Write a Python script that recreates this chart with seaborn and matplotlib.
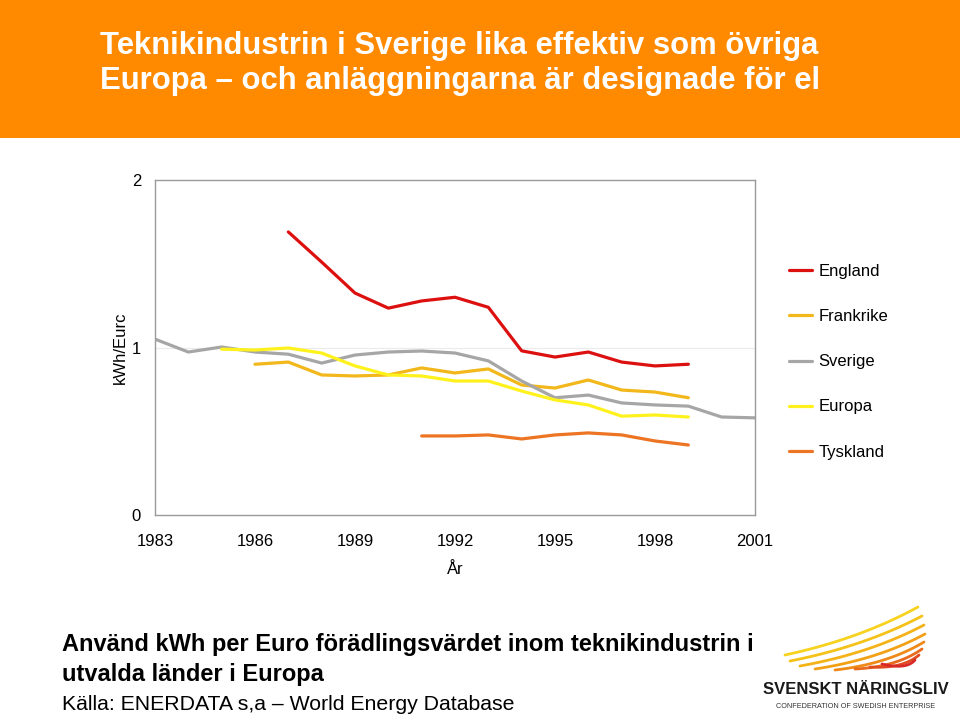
import numpy as np
import pandas as pd
import matplotlib
matplotlib.use("Agg")
import matplotlib.pyplot as plt
import seaborn as sns
from matplotlib.lines import Line2D
from matplotlib.patches import Rectangle

years = list(range(1983, 2002))
england = [None, None, None, None, 1.69, 1.51, 1.325, 1.235, 1.278, 1.30, 1.24, 0.98, 0.943, 0.973, 0.913, 0.89, 0.90, None, None]
frankrike = [None, None, None, 0.90, 0.913, 0.836, 0.83, 0.836, 0.878, 0.848, 0.872, 0.776, 0.758, 0.806, 0.746, 0.734, 0.70, None, None]
sverige = [1.05, 0.973, 1.003, 0.973, 0.96, 0.907, 0.955, 0.973, 0.979, 0.967, 0.92, 0.80, 0.70, 0.716, 0.669, 0.657, 0.65, 0.585, 0.58]
europa = [None, None, 0.99, 0.985, 0.997, 0.967, 0.89, 0.836, 0.83, 0.80, 0.80, 0.74, 0.687, 0.657, 0.59, 0.597, 0.585, None, None]
tyskland = [None] * 8 + [0.472, 0.472, 0.478, 0.454, 0.478, 0.49, 0.478, 0.442, 0.418, None, None]

series_names = ["England", "Frankrike", "Sverige", "Europa", "Tyskland"]
series_vals = [england, frankrike, sverige, europa, tyskland]
colors = {"England": "#DD1010", "Frankrike": "#F2B71A", "Sverige": "#A6A6A6",
          "Europa": "#FFF21C", "Tyskland": "#EC7422"}
xticks = [1983, 1986, 1989, 1992, 1995, 1998, 2001]
yticks = [0, 1, 2]

rows = []
for name, vals in zip(series_names, series_vals):
    for y, v in zip(years, vals):
        if v is not None:
            rows.append({"År": y, "value": v, "land": name})
df = pd.DataFrame(rows)

sns.set_theme(style="white")
plt.rcParams['font.family'] = ['Liberation Sans', 'DejaVu Sans']
plt.rcParams['text.color'] = 'black'
plt.rcParams['axes.labelcolor'] = 'black'

fig = plt.figure(figsize=(9.6, 7.17), dpi=100)

# header band
fig.add_artist(Rectangle((0, 1 - 138 / 717), 1, 138 / 717, transform=fig.transFigure,
                         facecolor="#FF8A00", edgecolor="none", zorder=0))
fig.text(100 / 960, 1 - 46 / 717, "Teknikindustrin i Sverige lika effektiv som övriga",
         color="white", fontsize=22.3, fontweight="bold", va="center", ha="left")
fig.text(100 / 960, 1 - 81 / 717, "Europa – och anläggningarna är designade för el",
         color="white", fontsize=22.3, fontweight="bold", va="center", ha="left")

ax = fig.add_axes([155 / 960, 1 - 515 / 717, 600 / 960, 335 / 717])
sns.lineplot(data=df, x="År", y="value", hue="land", hue_order=series_names,
             palette=colors, linewidth=2.3, ax=ax, legend=True)

ax.set_xlim(1983, 2001)
ax.set_ylim(0, 2)
ax.set_xticks(xticks)
ax.set_yticks(yticks)
ax.set_xticklabels([str(t) for t in xticks], fontsize=12)
ax.set_yticklabels([str(t) for t in yticks], fontsize=12)
ax.axhline(1, color="#EBEBEB", lw=0.8, zorder=0)
for s in ax.spines.values():
    s.set_color("#9A9A9A")
    s.set_linewidth(1.0)
ax.tick_params(axis="both", length=4, color="#9A9A9A", direction="out", pad=6, labelcolor="black")
ax.tick_params(axis="x", pad=10)
ax.set_xlabel("År", fontsize=12, labelpad=9)
ax.set_ylabel("kWh/Eurc", fontsize=12, labelpad=3)

ax.get_legend().remove()
handles = [Line2D([], [], color=colors[n], lw=2.3) for n in series_names]
fig.legend(handles, series_names, loc="upper left", bbox_to_anchor=(774 / 960, 1 - 249 / 717),
           frameon=False, fontsize=12, handlelength=1.35, handletextpad=0.4,
           labelspacing=1.81)

# bottom text
fig.text(62 / 960, 1 - 645 / 717, "Använd kWh per Euro förädlingsvärdet inom teknikindustrin i",
         fontsize=17, fontweight="bold", va="center", ha="left", color="black")
fig.text(62 / 960, 1 - 674 / 717, "utvalda länder i Europa",
         fontsize=17, fontweight="bold", va="center", ha="left", color="black")
fig.text(62 / 960, 1 - 705 / 717, "Källa: ENERDATA s,a – World Energy Database",
         fontsize=15.3, va="center", ha="left", color="black")

# logo
fig.text(856 / 960, 1 - 689 / 717, "SVENSKT NÄRINGSLIV", fontsize=12, fontweight="bold",
         ha="center", va="center", color="#1A1A1A")
fig.text(856 / 960, 1 - 706 / 717, "CONFEDERATION OF SWEDISH ENTERPRISE", fontsize=5.2,
         ha="center", va="center", color="#333333")
wing_cols = ["#F7D21E", "#F5C21A", "#F4B318", "#F2A116", "#EE8A18", "#E86A1C", "#E04A20", "#D82828"]
starts = [(785, 655), (790, 661), (800, 666), (815, 669), (835, 670), (855, 669), (870, 667), (882, 664)]
ends = [(918, 607), (922, 616), (924, 625), (925, 634), (924, 642), (922, 649), (919, 655), (915, 660)]
for c, (x0, y0), (x1, y1) in zip(wing_cols, starts, ends):
    xm, ym = (x0 + x1) / 2 + 8, (y0 + y1) / 2 + 8
    t = np.linspace(0, 1, 30)
    xs = (1 - t) ** 2 * x0 + 2 * (1 - t) * t * xm + t ** 2 * x1
    ys = (1 - t) ** 2 * y0 + 2 * (1 - t) * t * ym + t ** 2 * y1
    fig.add_artist(Line2D(xs / 960, 1 - ys / 717, transform=fig.transFigure, color=c,
                          lw=2.0, solid_capstyle="round"))

fig.savefig("out.png", dpi=100)
